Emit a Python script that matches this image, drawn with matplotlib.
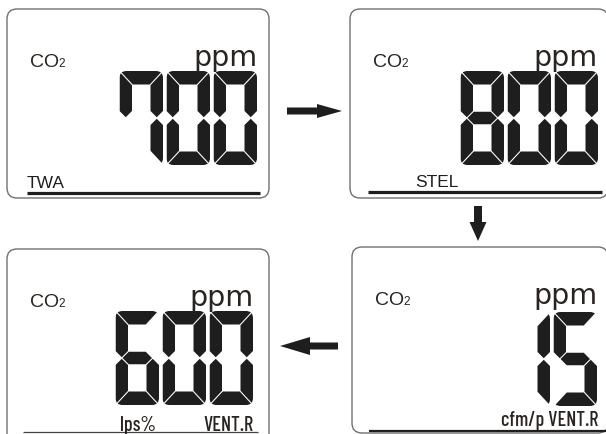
import matplotlib
matplotlib.use('Agg')
import matplotlib.pyplot as plt
from matplotlib.patches import FancyBboxPatch, Polygon

# what each of the four meter screens shows
READINGS   = ['700', '800', '600', '15']
GAS        = 'CO'
GAS_SUB    = '2'
UNIT       = 'ppm'
MODE_LEFT  = ['TWA', 'STEL', 'lps%', '']
MODE_RIGHT = ['', '', 'VENT.R', 'cfm/p VENT.R']

# lit segments per digit
SEGMENTS = {
    '0': 'abcdef', '1': 'bc', '5': 'acdfg', '6': 'acdefg',
    '7': 'abcf', '8': 'abcdefg',
}

INK    = '#1e1e1e'
TEXT   = '#2a2420'
BORDER = '#707070'
SANS   = ['Liberation Sans', 'DejaVu Sans']
NARROW = ['Barlow Condensed', 'DejaVu Sans']

# screen boxes (x, y, w, h), digit top / right edge, label spots, underline
SCREENS = [
    dict(box=(7, 10, 262, 189),   top=72,  right=257, left_x=27,  base=188,
         line=(27, 260, 194, 2.3, INK)),
    dict(box=(350, 10, 258, 189), top=72,  right=598, left_x=415, base=187,
         line=(368, 602, 193, 2.3, INK)),
    dict(box=(7, 250, 262, 200),  top=312, right=253, left_x=120, base=431,
         line=(23, 258, 433, 0.9, '#444444')),
    dict(box=(352, 248, 256, 186), top=313, right=597, left_x=None, base=426,
         line=(369, 606, 432, 1.6, INK)),
]

DIG_W, DIG_H, PITCH = 43.5, 94, 47
T_V, T_H, T_G, GAP = 12.5, 13.5, 12.5, 1.1


def segment_polys(x0, y0, w, h):
    x1, y1, ym = x0 + w, y0 + h, y0 + h / 2
    s, tv, th, tg = 0.7 * GAP, T_V, T_H, T_G / 2
    return {
        'a': [(x0 + s, y0), (x1 - s, y0), (x1 - tv - s, y0 + th), (x0 + tv + s, y0 + th)],
        'd': [(x0 + s, y1), (x1 - s, y1), (x1 - tv - s, y1 - th), (x0 + tv + s, y1 - th)],
        'f': [(x0, y0 + s), (x0 + tv, y0 + th + s), (x0 + tv, ym - tg - s),
              (x0 + tv / 2, ym - s), (x0, ym - tv / 2 - s)],
        'e': [(x0, y1 - s), (x0 + tv, y1 - th - s), (x0 + tv, ym + tg + s),
              (x0 + tv / 2, ym + s), (x0, ym + tv / 2 + s)],
        'b': [(x1, y0 + s), (x1 - tv, y0 + th + s), (x1 - tv, ym - tg - s),
              (x1 - tv / 2, ym - s), (x1, ym - tv / 2 - s)],
        'c': [(x1, y1 - s), (x1 - tv, y1 - th - s), (x1 - tv, ym + tg + s),
              (x1 - tv / 2, ym + s), (x1, ym + tv / 2 + s)],
        'g': [(x0 + tv / 2 + s, ym), (x0 + tv + s, ym - tg), (x1 - tv - s, ym - tg),
              (x1 - tv / 2 - s, ym), (x1 - tv - s, ym + tg), (x0 + tv + s, ym + tg)],
    }


def draw_number(ax, text, right, top):
    n = len(text)
    for i, ch in enumerate(text):
        x0 = right - DIG_W - (n - 1 - i) * PITCH
        clip = FancyBboxPatch((x0, top), DIG_W, DIG_H, boxstyle='round,pad=0,rounding_size=7',
                              transform=ax.transData)
        polys = segment_polys(x0, top, DIG_W, DIG_H)
        for seg in SEGMENTS[ch]:
            p = ax.add_patch(Polygon(polys[seg], closed=True, fc=INK, ec='none'))
            p.set_clip_path(clip)


fig = plt.figure(figsize=(6.06, 4.35), dpi=100)
ax = fig.add_axes([0, 0, 1, 1])
ax.set_xlim(0, 606)
ax.set_ylim(435, 0)
ax.axis('off')

for i, sc in enumerate(SCREENS):
    bx, by, bw, bh = sc['box']
    ax.add_patch(FancyBboxPatch((bx, by), bw, bh, boxstyle='round,pad=0,rounding_size=10',
                                fc='white', ec=BORDER, lw=1.0))
    x_a, x_b, yl, lw, col = sc['line']
    ax.plot([x_a, x_b], [yl, yl], color=col, lw=lw, solid_capstyle='butt')

    ax.text(bx + 23, by + 57, GAS, fontsize=14, family=SANS, color=TEXT,
            va='baseline', ha='left')
    ax.text(bx + 51.5, by + 57, GAS_SUB, fontsize=8.5, family=SANS, color=TEXT,
            va='baseline', ha='left')
    ax.text(sc['right'], by + 56.5, UNIT, fontsize=20.5, family=['DejaVu Sans'], color=TEXT,
            va='baseline', ha='right')

    draw_number(ax, READINGS[i], sc['right'], sc['top'])

    if MODE_LEFT[i]:
        narrow = i >= 2
        ax.text(sc['left_x'], sc['base'], MODE_LEFT[i], fontsize=14.5 if narrow else 12.5,
                family=NARROW if narrow else SANS, color=TEXT if narrow else INK,
                weight='medium' if narrow else 'normal', va='baseline', ha='left')
    if MODE_RIGHT[i]:
        ax.text(sc['right'] + 1, sc['base'], MODE_RIGHT[i], fontsize=14.5,
                family=NARROW, color=TEXT, weight='medium', va='baseline', ha='right')

# arrows between screens
ax.add_patch(Polygon([(287, 108.5), (317, 108.5), (317, 105), (342, 112), (317, 119),
                      (317, 115.5), (287, 115.5)], fc=INK, ec='none'))
ax.add_patch(Polygon([(474, 207), (482, 207), (482, 223), (486.5, 223), (478, 242),
                      (469.5, 223), (474, 223)], fc=INK, ec='none'))
ax.add_patch(Polygon([(338, 343.5), (310, 343.5), (310, 338), (280, 347), (310, 356),
                      (310, 350.5), (338, 350.5)], fc=INK, ec='none'))

fig.savefig('out.png', dpi=100)
